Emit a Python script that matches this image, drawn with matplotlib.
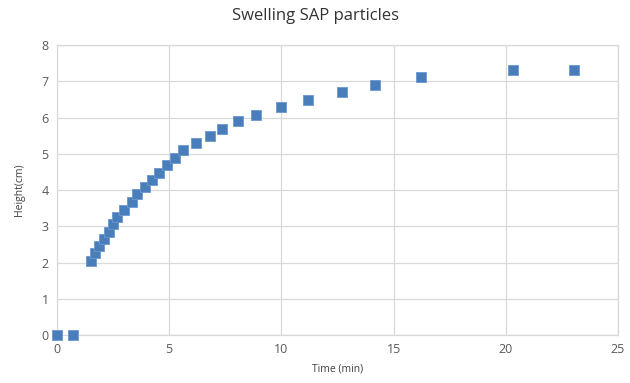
import matplotlib.pyplot as plt

# ── Data ──────────────────────────────────────────────────────────────────────
time_min = [0.0, 0.70, 1.50, 1.70, 1.88, 2.09, 2.30, 2.49, 2.67, 3.00, 3.33,
            3.58, 3.90, 4.22, 4.55, 4.90, 5.24, 5.60, 6.20, 6.83, 7.36, 8.07,
            8.86, 10.0, 11.19, 12.68, 14.19, 16.24, 20.32, 23.04]
height_cm = [0.0, 0.0, 2.05, 2.25, 2.45, 2.64, 2.85, 3.07, 3.26, 3.46, 3.66,
             3.88, 4.08, 4.28, 4.48, 4.68, 4.89, 5.10, 5.29, 5.49, 5.69, 5.90,
             6.08, 6.28, 6.48, 6.70, 6.90, 7.11, 7.31, 7.31]
x_ticks = [0, 5, 10, 15, 20, 25]
y_ticks = [0, 1, 2, 3, 4, 5, 6, 7, 8]

plt.rcParams['font.family'] = ['Open Sans', 'DejaVu Sans']

fig = plt.figure(figsize=(6.3, 3.83), dpi=100)
ax = fig.add_axes([0.0905, 0.1253, 0.8905, 0.7572])

grid_col = '#d9d9d9'
ax.scatter(time_min, height_cm, marker='s', s=62, color='#4a7ebb',
           edgecolors='#6b98cf', linewidths=0.6, zorder=3, clip_on=False)

ax.set_xlim(0, 25)
ax.set_ylim(0, 8)
ax.set_xticks(x_ticks)
ax.set_yticks(y_ticks)
ax.grid(axis='both', color=grid_col, lw=0.9)
ax.set_axisbelow(True)
for s in ax.spines.values():
    s.set_color(grid_col)
    s.set_linewidth(0.9)
ax.tick_params(length=0, labelsize=9, labelcolor='#595959', pad=6)

# title is centred on the whole figure, not the plot area
fig.text(0.5, 0.958, 'Swelling SAP particles', fontsize=12, color='#333333',
         ha='center', va='center')
ax.set_xlabel('Time (min)', fontsize=7.5, color='#404040', labelpad=5)
ax.set_ylabel('Height(cm)', fontsize=7.5, color='#404040', labelpad=12)

fig.savefig('out.png', dpi=100)
plt.close()
